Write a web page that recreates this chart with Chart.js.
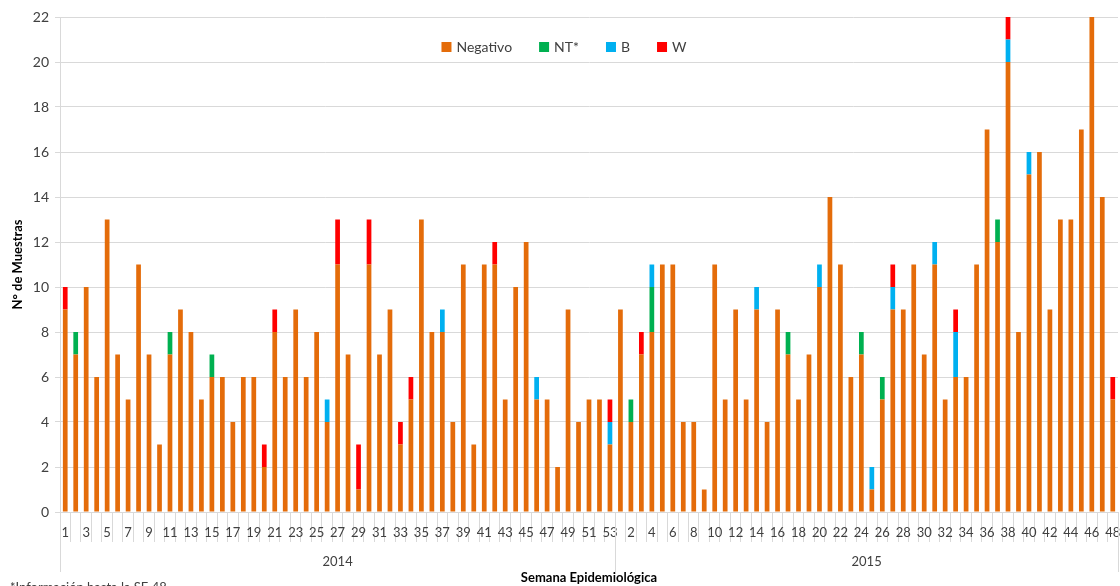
<!DOCTYPE html>
<html>
<head>
<meta charset="utf-8">
<script src="https://cdn.jsdelivr.net/npm/chart.js@4/dist/chart.umd.min.js"></script>
<style>
  html, body { margin: 0; padding: 0; background: #fff; }
  #wrap { width: 1120px; height: 586px; }
</style>
</head>
<body>
<div id="wrap"><canvas id="chart" width="1120" height="586"></canvas></div>
<script>
// semanas epidemiológicas
const weeks2014 = [1,2,3,4,5,6,7,8,9,10,11,12,13,14,15,16,17,18,19,20,21,22,23,24,25,26,27,28,29,30,31,32,33,34,35,36,37,38,39,40,41,42,43,44,45,46,47,48,49,50,51,52,53];
const weeks2015 = [1,2,3,4,5,6,7,8,9,10,11,12,13,14,15,16,17,18,19,20,21,22,23,24,25,26,27,28,29,30,31,32,33,34,35,36,37,38,39,40,41,42,43,44,45,46,47,48];
const years = ["2014", "2015"];

// 2014 (53 weeks) then 2015 (48 weeks)
const negativo = [
  9,7,10,6,13,7,5,11,7,3, 7,9,8,5,6,6,4,6,6,2, 8,6,9,6,8,4,11,7,1,11, 7,9,3,5,13,8,8,4,11,3, 11,11,5,10,12,5,5,2,9,4, 5,5,3,
  9,4,7,8,11,11,4,4,1,11, 5,9,5,9,4,9,7,5,7,10, 14,11,6,7,1,5,9,9,11,7, 11,5,6,6,11,17,12,20,8,15, 16,9,13,13,17,22,14,5
];
const nt = [
  0,1,0,0,0,0,0,0,0,0, 1,0,0,0,1,0,0,0,0,0, 0,0,0,0,0,0,0,0,0,0, 0,0,0,0,0,0,0,0,0,0, 0,0,0,0,0,0,0,0,0,0, 0,0,0,
  0,1,0,2,0,0,0,0,0,0, 0,0,0,0,0,0,1,0,0,0, 0,0,0,1,0,1,0,0,0,0, 0,0,0,0,0,0,1,0,0,0, 0,0,0,0,0,0,0,0
];
const b = [
  0,0,0,0,0,0,0,0,0,0, 0,0,0,0,0,0,0,0,0,0, 0,0,0,0,0,1,0,0,0,0, 0,0,0,0,0,0,1,0,0,0, 0,0,0,0,0,1,0,0,0,0, 0,0,1,
  0,0,0,1,0,0,0,0,0,0, 0,0,0,1,0,0,0,0,0,1, 0,0,0,0,1,0,1,0,0,0, 1,0,2,0,0,0,0,1,0,1, 0,0,0,0,0,0,0,0
];
const w = [
  1,0,0,0,0,0,0,0,0,0, 0,0,0,0,0,0,0,0,0,1, 1,0,0,0,0,0,2,0,2,2, 0,0,1,1,0,0,0,0,0,0, 0,1,0,0,0,0,0,0,0,0, 0,0,1,
  0,0,1,0,0,0,0,0,0,0, 0,0,0,0,0,0,0,0,0,0, 0,0,0,0,0,0,1,0,0,0, 0,0,1,0,0,0,0,1,0,0, 0,0,0,0,0,0,0,1
];

const labels = weeks2014.map(String).concat(weeks2015.map(String));
const FONT = "Lato, 'Open Sans', sans-serif";
const TEXT = "#404040";
const GRID = "#d9d9d9";

// legend drawn inside the plot, like the Excel original
const innerLegend = {
  id: "innerLegend",
  afterDatasetsDraw(chart) {
    const ctx = chart.ctx;
    const sets = chart.data.datasets;
    ctx.save();
    ctx.font = "14px " + FONT;
    ctx.textBaseline = "middle";
    const gap = 27;
    const widths = sets.map(ds => 10 + 5 + ctx.measureText(ds.label).width);
    const total = widths.reduce((a, v) => a + v, 0) + gap * (sets.length - 1);
    let xx = 564 - total / 2;
    const cy = 47;
    sets.forEach((ds, i) => {
      ctx.fillStyle = ds.backgroundColor;
      ctx.fillRect(xx, cy - 5, 10, 10);
      ctx.fillStyle = TEXT;
      ctx.fillText(ds.label, xx + 15, cy);
      xx += widths[i] + gap;
    });
    ctx.restore();
  }
};

// year row under the week labels + footnote
const yearRow = {
  id: "yearRow",
  afterDraw(chart) {
    const { ctx, chartArea, scales } = chart;
    const x = scales.x;
    const n = weeks2014.length;
    const split = (x.getPixelForValue(n - 1) + x.getPixelForValue(n)) / 2;
    const bottom = chartArea.bottom;
    ctx.save();
    ctx.strokeStyle = GRID;
    ctx.lineWidth = 1;
    [chartArea.left, split, chartArea.right].forEach(px => {
      const xx = Math.round(px) + 0.5;
      ctx.beginPath();
      ctx.moveTo(xx, bottom);
      ctx.lineTo(xx, bottom + 60);
      ctx.stroke();
    });
    ctx.fillStyle = TEXT;
    ctx.font = "13px " + FONT;
    ctx.textAlign = "center";
    ctx.textBaseline = "middle";
    ctx.fillText(years[0], (chartArea.left + split) / 2, bottom + 50);
    ctx.fillText(years[1], (split + chartArea.right) / 2, bottom + 50);
    ctx.textAlign = "left";
    ctx.textBaseline = "top";
    ctx.fillText("*Información hasta la SE 48", 10, 581);
    ctx.restore();
  }
};

new Chart(document.getElementById("chart"), {
  type: "bar",
  data: {
    labels: labels,
    datasets: [
      { label: "Negativo", data: negativo, backgroundColor: "#E46C0A" },
      { label: "NT*", data: nt, backgroundColor: "#00B050" },
      { label: "B", data: b, backgroundColor: "#00B0F0" },
      { label: "W", data: w, backgroundColor: "#FF0000" },
    ],
  },
  options: {
    responsive: false,
    animation: false,
    layout: { padding: { top: 17, right: 2, left: 0, bottom: 0 } },
    datasets: {
      bar: { barPercentage: 0.45, categoryPercentage: 1, borderWidth: 0 },
    },
    plugins: {
      legend: { display: false },
      tooltip: { enabled: false },
    },
    scales: {
      x: {
        stacked: true,
        afterFit(scale) { scale.height = 74; },
        grid: {
          offset: true,
          drawOnChartArea: false,
          tickLength: 30,
          color: GRID,
        },
        border: { color: GRID },
        ticks: {
          autoSkip: false,
          maxRotation: 0,
          padding: -17,
          color: TEXT,
          font: { family: FONT, size: 13 },
          callback: function (v, i) {
            return i % 2 === 0 ? this.getLabelForValue(v) : "";
          },
        },
        title: {
          display: true,
          text: "Semana Epidemiológica",
          color: "#000",
          font: { family: FONT, size: 13, weight: "bold" },
          padding: { top: 0, bottom: 0 },
        },
      },
      y: {
        stacked: true,
        min: 0,
        max: 22,
        afterFit(scale) { scale.width = 60; },
        grid: { color: GRID, tickLength: 5 },
        border: { color: GRID },
        ticks: {
          stepSize: 2,
          padding: 6,
          color: TEXT,
          font: { family: FONT, size: 14 },
        },
        title: {
          display: true,
          text: "N° de Muestras",
          color: "#000",
          font: { family: FONT, size: 13, weight: "bold" },
          padding: { top: 10, bottom: 0 },
        },
      },
    },
  },
  plugins: [innerLegend, yearRow],
});
</script>
</body>
</html>
